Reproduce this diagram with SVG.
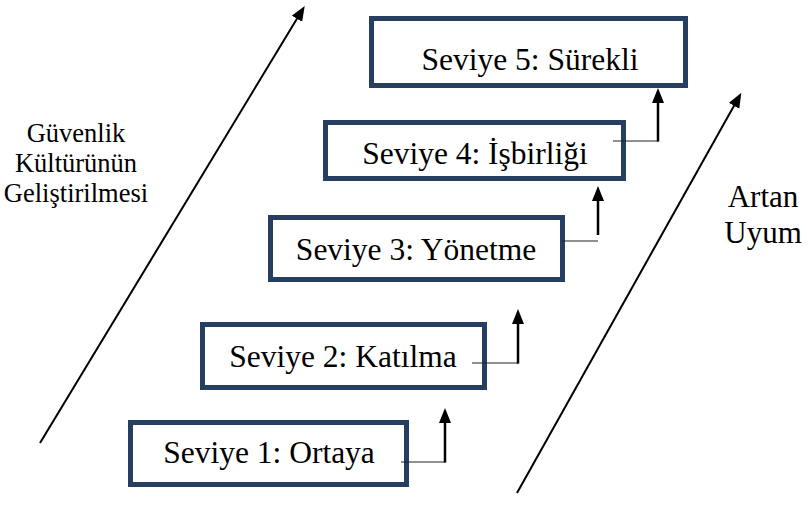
<svg xmlns="http://www.w3.org/2000/svg" width="808" height="506" viewBox="0 0 808 506">
<defs>
<style>
.box{fill:#fff;stroke:#263f60;stroke-width:5}
.lbl{font-family:"Liberation Serif","Times New Roman",serif;font-size:31.5px;fill:#000;text-anchor:middle}
.side{font-family:"Liberation Serif","Times New Roman",serif;fill:#000;text-anchor:middle}
.thin{stroke:#222;stroke-width:1.2;fill:none}
.thick{stroke:#000;stroke-width:2.5;fill:none}
.diag{stroke:#000;stroke-width:2;fill:none}
</style>
<marker id="ah" markerUnits="userSpaceOnUse" markerWidth="16" markerHeight="14" refX="2" refY="6" orient="auto">
<path d="M0,0 L15,6 L0,12 Z" fill="#000"/>
</marker>
</defs>
<rect width="808" height="506" fill="#fff"/>
<g id="node-5"><rect class="box" x="371.5" y="18.5" width="314" height="67"/><text class="lbl" x="530" y="70">Seviye 5: Sürekli</text></g>
<g id="node-4"><rect class="box" x="325.5" y="122.5" width="298" height="56"/><text class="lbl" x="475" y="164">Seviye 4: İşbirliği</text></g>
<g id="node-3"><rect class="box" x="270.5" y="217.5" width="292" height="62"/><text class="lbl" x="416" y="260">Seviye 3: Yönetme</text></g>
<g id="node-2"><rect class="box" x="202.5" y="324.5" width="282" height="63"/><text class="lbl" x="343" y="367">Seviye 2: Katılma</text></g>
<g id="node-1"><rect class="box" x="130.5" y="422.5" width="276" height="62"/><text class="lbl" x="269" y="463">Seviye 1: Ortaya</text></g>
<g id="label-left"><text class="side" font-size="26.5" x="76" y="142">Güvenlik</text><text class="side" font-size="26.5" x="76" y="172">Kültürünün</text><text class="side" font-size="26.5" x="76" y="202">Geliştirilmesi</text></g>
<g id="label-right"><text class="side" font-size="31" x="763" y="207">Artan</text><text class="side" font-size="31" x="763" y="243">Uyum</text></g>
<g id="connectors">
<line class="thin" x1="401" y1="462" x2="445" y2="462"/>
<line class="thick" x1="445" y1="462.6" x2="445" y2="421" marker-end="url(#ah)"/>
<line class="thin" x1="472" y1="363" x2="518" y2="363"/>
<line class="thick" x1="518" y1="363.6" x2="518" y2="322" marker-end="url(#ah)"/>
<line class="thin" x1="562" y1="241" x2="598" y2="241"/>
<line class="thick" x1="598" y1="235" x2="598" y2="199" marker-end="url(#ah)"/>
<line class="thin" x1="613" y1="141" x2="658" y2="141"/>
<line class="thick" x1="658" y1="141.6" x2="658" y2="101" marker-end="url(#ah)"/>
<line class="diag" x1="40" y1="443" x2="298" y2="17" marker-end="url(#ah)"/>
<line class="diag" x1="517" y1="493" x2="735" y2="104" marker-end="url(#ah)"/>
</g>
</svg>
